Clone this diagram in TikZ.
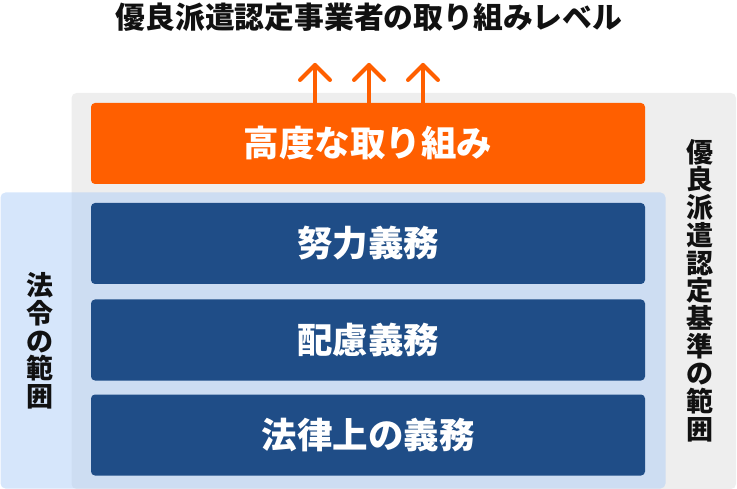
\documentclass[tikz,border=0pt]{standalone}
\usepackage{fontspec}
\newfontfamily\jp{Noto Sans CJK JP}
\definecolor{orangebox}{HTML}{FF5F00}
\definecolor{bluebox}{HTML}{1F4D87}
\definecolor{grayzone}{HTML}{EEEEEE}
\definecolor{bluezone}{RGB}{168,202,247}
\definecolor{titleink}{HTML}{111111}
\tikzset{
  levelbox/.style={rounded corners=4pt, minimum width=554pt, minimum height=81pt, inner sep=0pt, text=white, font=\jp\bfseries\fontsize{35.5}{35.5}\selectfont},
  uparrow/.style={draw=orangebox, line width=4pt, line cap=round, line join=round},
  vlabel/.style={align=center, inner sep=0pt, text=titleink, font=\jp\bfseries\fontsize{27}{27.7}\selectfont}
}
\begin{document}
\begin{tikzpicture}[x=1pt,y=-1pt]
\useasboundingbox (0,0) rectangle (737,489);
% zones
\fill[grayzone, rounded corners=5pt] (71.5,93) rectangle (736,489);
\fill[bluezone, fill opacity=0.47, rounded corners=5pt] (0.5,192.5) rectangle (665.5,488.5);
% title
\node[inner sep=0pt, text=titleink, font=\jp\bfseries\fontsize{29.8}{29.8}\selectfont] (title) at (369,17) {優良派遣認定事業者の取り組みレベル};
% boxes
\node[levelbox, fill=orangebox] (high) at (368,143.5) {高度な取り組み};
\node[levelbox, fill=bluebox] (effort) at (368,243.5) {努力義務};
\node[levelbox, fill=bluebox] (care) at (368,340) {配慮義務};
\node[levelbox, fill=bluebox] (legal) at (368,435) {法律上の義務};
% arrows
\foreach \ax in {315,369,423}{
  \coordinate (tip\ax) at (\ax,65);
  \draw[uparrow] (\ax,103) -- (tip\ax);
  \draw[uparrow] ([xshift=-15pt,yshift=-15pt]tip\ax) -- (tip\ax) -- ([xshift=15pt,yshift=-15pt]tip\ax);
}
% side labels
\node[vlabel] (lawscope) at (39.5,341) {法\\令\\の\\範\\囲};
\node[vlabel] (stdscope) at (700,290.5) {優\\良\\派\\遣\\認\\定\\基\\準\\の\\範\\囲};
\end{tikzpicture}
\end{document}
